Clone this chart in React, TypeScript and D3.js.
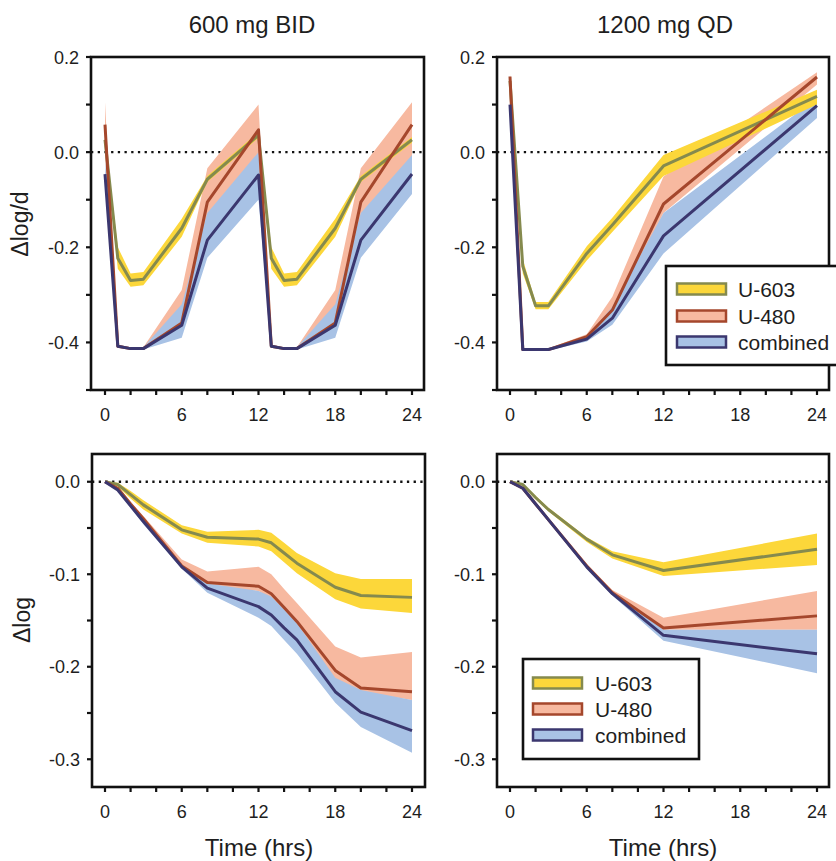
import React from 'react';
import * as d3 from 'd3';

// ---------- data ----------
const TIMES_BID = [0, 1, 2, 3, 6, 8, 12, 13, 14, 15, 18, 20, 24];
const TIMES_QD = [0, 1, 2, 3, 6, 8, 12, 24];

const SERIES_NAMES = ['U-603', 'U-480', 'combined'];
const BAND_COLORS = ['#FCD73A', '#F7B9A0', '#A8C2E5'];
const LINE_COLORS = ['#858A4E', '#A5472C', '#3B376F'];

const PANEL_TITLES = ['600 mg BID', '1200 mg QD'];
const Y_TITLES = ['\u0394log/d', '\u0394log'];
const X_TITLE = 'Time (hrs)';
const X_TICK_LABELS = [0, 6, 12, 18, 24];

// Top-left: 600 mg BID, Δlog/d
const BID_RATE_U603 = [0.026, -0.223, -0.27, -0.267, -0.16, -0.057, 0.036, -0.223, -0.27, -0.267, -0.16, -0.057, 0.026];
const BID_RATE_U603_LO = [0.02, -0.245, -0.283, -0.28, -0.178, -0.063, 0.03, -0.245, -0.283, -0.28, -0.178, -0.063, 0.02];
const BID_RATE_U603_HI = [0.032, -0.2, -0.255, -0.252, -0.14, -0.05, 0.042, -0.2, -0.255, -0.252, -0.14, -0.05, 0.032];
const BID_RATE_U480 = [0.058, -0.408, -0.413, -0.413, -0.359, -0.105, 0.047, -0.408, -0.413, -0.413, -0.359, -0.105, 0.058];
const BID_RATE_U480_LO = [0.01, -0.41, -0.415, -0.415, -0.37, -0.15, -0.005, -0.41, -0.415, -0.415, -0.37, -0.15, -0.01];
const BID_RATE_U480_HI = [0.105, -0.405, -0.41, -0.41, -0.29, -0.034, 0.1, -0.405, -0.41, -0.41, -0.29, -0.034, 0.105];
const BID_RATE_COMB = [-0.046, -0.408, -0.413, -0.413, -0.364, -0.185, -0.048, -0.408, -0.413, -0.413, -0.364, -0.185, -0.046];
const BID_RATE_COMB_LO = [-0.07, -0.41, -0.415, -0.415, -0.39, -0.222, -0.1, -0.41, -0.415, -0.415, -0.39, -0.222, -0.088];
const BID_RATE_COMB_HI = [-0.02, -0.405, -0.41, -0.41, -0.32, -0.128, 0.0, -0.405, -0.41, -0.41, -0.32, -0.128, -0.006];

// Top-right: 1200 mg QD, Δlog/d
const QD_RATE_U603 = [0.15, -0.24, -0.323, -0.323, -0.213, -0.153, -0.029, 0.117];
const QD_RATE_U603_LO = [0.14, -0.255, -0.33, -0.33, -0.228, -0.168, -0.05, 0.1];
const QD_RATE_U603_HI = [0.16, -0.225, -0.315, -0.315, -0.198, -0.138, -0.006, 0.131];
const QD_RATE_U480 = [0.159, -0.415, -0.415, -0.415, -0.388, -0.332, -0.109, 0.158];
const QD_RATE_U480_LO = [0.15, -0.417, -0.417, -0.417, -0.392, -0.346, -0.128, 0.142];
const QD_RATE_U480_HI = [0.165, -0.413, -0.413, -0.413, -0.383, -0.304, -0.051, 0.168];
const QD_RATE_COMB = [0.1, -0.415, -0.415, -0.415, -0.393, -0.349, -0.176, 0.098];
const QD_RATE_COMB_LO = [0.095, -0.417, -0.417, -0.417, -0.398, -0.363, -0.213, 0.072];
const QD_RATE_COMB_HI = [0.105, -0.413, -0.413, -0.413, -0.388, -0.325, -0.128, 0.114];

// Bottom-left: 600 mg BID, Δlog
const BID_CUM_U603 = [0, -0.003, -0.014, -0.025, -0.052, -0.06, -0.062, -0.066, -0.077, -0.088, -0.114, -0.123, -0.125];
const BID_CUM_U603_LO = [0, -0.005, -0.018, -0.03, -0.056, -0.066, -0.07, -0.075, -0.087, -0.099, -0.127, -0.137, -0.142];
const BID_CUM_U603_HI = [0, -0.001, -0.01, -0.02, -0.047, -0.054, -0.052, -0.055, -0.066, -0.077, -0.099, -0.105, -0.105];
const BID_CUM_U480 = [0, -0.007, -0.024, -0.04, -0.091, -0.109, -0.113, -0.121, -0.136, -0.151, -0.204, -0.223, -0.227];
const BID_CUM_U480_LO = [0, -0.008, -0.026, -0.043, -0.094, -0.113, -0.118, -0.127, -0.143, -0.16, -0.214, -0.227, -0.236];
const BID_CUM_U480_HI = [0, -0.006, -0.022, -0.037, -0.084, -0.097, -0.092, -0.1, -0.116, -0.131, -0.178, -0.19, -0.184];
const BID_CUM_COMB = [0, -0.009, -0.026, -0.043, -0.092, -0.115, -0.135, -0.144, -0.158, -0.171, -0.227, -0.249, -0.269];
const BID_CUM_COMB_LO = [0, -0.01, -0.028, -0.046, -0.094, -0.12, -0.147, -0.156, -0.171, -0.186, -0.239, -0.265, -0.293];
const BID_CUM_COMB_HI = [0, -0.008, -0.024, -0.04, -0.09, -0.11, -0.118, -0.124, -0.138, -0.153, -0.212, -0.225, -0.236];

// Bottom-right: 1200 mg QD, Δlog
const QD_CUM_U603 = [0, -0.003, -0.017, -0.03, -0.062, -0.079, -0.096, -0.073];
const QD_CUM_U603_LO = [0, -0.004, -0.019, -0.032, -0.065, -0.083, -0.102, -0.09];
const QD_CUM_U603_HI = [0, -0.002, -0.015, -0.028, -0.06, -0.075, -0.087, -0.056];
const QD_CUM_U480 = [0, -0.007, -0.024, -0.041, -0.091, -0.12, -0.158, -0.145];
const QD_CUM_U480_LO = [0, -0.008, -0.025, -0.042, -0.093, -0.122, -0.16, -0.16];
const QD_CUM_U480_HI = [0, -0.006, -0.023, -0.04, -0.089, -0.117, -0.147, -0.118];
const QD_CUM_COMB = [0, -0.007, -0.024, -0.041, -0.092, -0.121, -0.166, -0.186];
const QD_CUM_COMB_LO = [0, -0.008, -0.025, -0.042, -0.094, -0.123, -0.172, -0.207];
const QD_CUM_COMB_HI = [0, -0.006, -0.023, -0.04, -0.09, -0.119, -0.16, -0.16];

const RATE_Y_DOMAIN = [-0.5, 0.2];
const RATE_Y_LABELS = [-0.4, -0.2, 0.0, 0.2];
const RATE_Y_MINOR = [-0.5, -0.3, -0.1, 0.1];
const CUM_Y_DOMAIN = [-0.33, 0.03];
const CUM_Y_LABELS = [-0.3, -0.2, -0.1, 0.0];
const CUM_Y_MINOR = [-0.25, -0.15, -0.05];

// ---------- helpers ----------
const FONT = 'Liberation Sans, Arial, Helvetica, sans-serif';
const TXT = '#1e1e1e';
const fmt = (v: number) => {
  const s = Math.abs(v).toFixed(1);
  return v < -1e-9 ? '-' + s : s;
};

type PanelProps = {
  left: number; right: number; top: number; bottom: number;
  x0: number; x24: number;
  yDomain: number[]; yLabels: number[]; yMinor: number[];
  times: number[];
  means: number[][]; los: number[][]; his: number[][];
};

function Panel(p: PanelProps) {
  const x = d3.scaleLinear().domain([0, 24]).range([p.x0, p.x24]);
  const y = d3.scaleLinear().domain(p.yDomain).range([p.bottom, p.top]);
  const xTicks = d3.range(0, 25, 2);
  const area = (lo: number[], hi: number[]) =>
    d3.area<number>()
      .x((_, i) => x(p.times[i]))
      .y0((_, i) => y(lo[i]))
      .y1((_, i) => y(hi[i]))(p.times) || '';
  const line = (m: number[]) =>
    d3.line<number>().x((_, i) => x(p.times[i])).y((_, i) => y(m[i]))(p.times) || '';
  const clipId = `clip-${p.left}-${p.top}`;
  return (
    <g>
      <defs>
        <clipPath id={clipId}>
          <rect x={p.left} y={p.top} width={p.right - p.left} height={p.bottom - p.top} />
        </clipPath>
      </defs>
      <g clipPath={`url(#${clipId})`}>
        <line x1={p.left} x2={p.right} y1={y(0)} y2={y(0)} stroke="#111" strokeWidth={2.3} strokeDasharray="2.3 4.4" />
        {[1, 2, 0].map((i) => (
          <path key={'b' + i} d={area(p.los[i], p.his[i])} fill={BAND_COLORS[i]} stroke="none" />
        ))}
        {[0, 1, 2].map((i) => (
          <path key={'l' + i} d={line(p.means[i])} fill="none" stroke={LINE_COLORS[i]} strokeWidth={3} strokeLinejoin="round" />
        ))}
      </g>
      <rect x={p.left} y={p.top} width={p.right - p.left} height={p.bottom - p.top} fill="none" stroke="#111" strokeWidth={2.6} />
      {xTicks.map((t) => (
        <line key={'xt' + t} x1={x(t)} x2={x(t)} y1={p.bottom} y2={p.bottom + 5} stroke="#111" strokeWidth={2.2} />
      ))}
      {X_TICK_LABELS.map((t) => (
        <text key={'xl' + t} x={x(t)} y={p.bottom + 31} textAnchor="middle" fontSize={18} fontFamily={FONT} fill={TXT}>{t}</text>
      ))}
      {[...p.yLabels, ...p.yMinor].map((t) => (
        <line key={'yt' + t} x1={p.left - 5} x2={p.left} y1={y(t)} y2={y(t)} stroke="#111" strokeWidth={2.2} />
      ))}
      {p.yLabels.map((t) => (
        <text key={'yl' + t} x={p.left - 12} y={y(t) + 6.5} textAnchor="end" fontSize={18} fontFamily={FONT} fill={TXT}>{fmt(t)}</text>
      ))}
    </g>
  );
}

function Legend({ x, y, w, h, sx, tx, rows }: { x: number; y: number; w: number; h: number; sx: number; tx: number; rows: number[] }) {
  return (
    <g>
      <rect x={x} y={y} width={w} height={h} fill="#fff" stroke="#111" strokeWidth={2.6} />
      {SERIES_NAMES.map((name, i) => (
        <g key={name}>
          <rect x={sx} y={rows[i] - 5.5} width={49} height={11} fill={BAND_COLORS[i]} stroke={LINE_COLORS[i]} strokeWidth={2.5} />
          <text x={tx} y={rows[i] + 7.5} fontSize={21} fontFamily={FONT} fill={TXT}>{name}</text>
        </g>
      ))}
    </g>
  );
}

export default function App() {
  const W = 836, H = 861;
  return (
    <svg width={W} height={H} style={{ position: 'absolute', left: 0, top: 0, background: '#fff' }}>
      <rect width={W} height={H} fill="#fff" />
      {/* column titles */}
      <text x={252} y={33} textAnchor="middle" fontSize={24} fontFamily={FONT} fill={TXT}>{PANEL_TITLES[0]}</text>
      <text x={665} y={33} textAnchor="middle" fontSize={24} fontFamily={FONT} fill={TXT}>{PANEL_TITLES[1]}</text>
      {/* y titles */}
      <text transform="translate(28,224) rotate(-90)" textAnchor="middle" fontSize={23} fontFamily={FONT} fill={TXT}>{Y_TITLES[0]}</text>
      <text transform="translate(30,620) rotate(-90)" textAnchor="middle" fontSize={23} fontFamily={FONT} fill={TXT}>{Y_TITLES[1]}</text>
      {/* x titles */}
      <text x={259} y={856} textAnchor="middle" fontSize={24} fontFamily={FONT} fill={TXT}>{X_TITLE}</text>
      <text x={663} y={856} textAnchor="middle" fontSize={24} fontFamily={FONT} fill={TXT}>{X_TITLE}</text>

      <Panel left={91} right={424} top={57} bottom={390} x0={105} x24={412}
        yDomain={RATE_Y_DOMAIN} yLabels={RATE_Y_LABELS} yMinor={RATE_Y_MINOR} times={TIMES_BID}
        means={[BID_RATE_U603, BID_RATE_U480, BID_RATE_COMB]}
        los={[BID_RATE_U603_LO, BID_RATE_U480_LO, BID_RATE_COMB_LO]}
        his={[BID_RATE_U603_HI, BID_RATE_U480_HI, BID_RATE_COMB_HI]} />
      <Panel left={497} right={829} top={57} bottom={390} x0={510} x24={817}
        yDomain={RATE_Y_DOMAIN} yLabels={RATE_Y_LABELS} yMinor={RATE_Y_MINOR} times={TIMES_QD}
        means={[QD_RATE_U603, QD_RATE_U480, QD_RATE_COMB]}
        los={[QD_RATE_U603_LO, QD_RATE_U480_LO, QD_RATE_COMB_LO]}
        his={[QD_RATE_U603_HI, QD_RATE_U480_HI, QD_RATE_COMB_HI]} />
      <Panel left={92} right={425} top={454} bottom={787} x0={105} x24={412}
        yDomain={CUM_Y_DOMAIN} yLabels={CUM_Y_LABELS} yMinor={CUM_Y_MINOR} times={TIMES_BID}
        means={[BID_CUM_U603, BID_CUM_U480, BID_CUM_COMB]}
        los={[BID_CUM_U603_LO, BID_CUM_U480_LO, BID_CUM_COMB_LO]}
        his={[BID_CUM_U603_HI, BID_CUM_U480_HI, BID_CUM_COMB_HI]} />
      <Panel left={497} right={829} top={454} bottom={787} x0={510} x24={817}
        yDomain={CUM_Y_DOMAIN} yLabels={CUM_Y_LABELS} yMinor={CUM_Y_MINOR} times={TIMES_QD}
        means={[QD_CUM_U603, QD_CUM_U480, QD_CUM_COMB]}
        los={[QD_CUM_U603_LO, QD_CUM_U480_LO, QD_CUM_COMB_LO]}
        his={[QD_CUM_U603_HI, QD_CUM_U480_HI, QD_CUM_COMB_HI]} />

      <Legend x={666} y={266} w={185} h={99} sx={677} tx={738} rows={[289, 316, 342]} />
      <Legend x={523} y={659} w={176} h={100} sx={533} tx={595} rows={[683, 709, 735]} />
    </svg>
  );
}
